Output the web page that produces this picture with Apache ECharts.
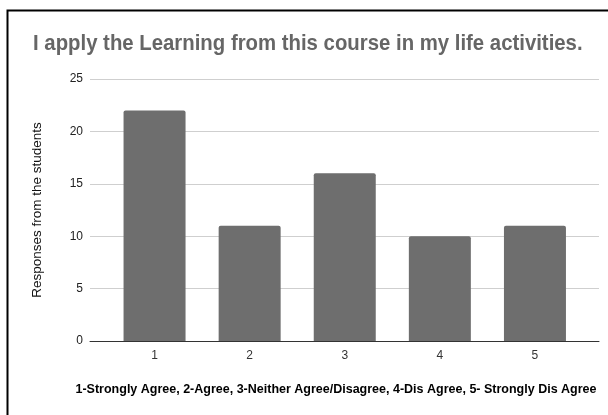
<!DOCTYPE html>
<html>
<head>
<meta charset="utf-8">
<script src="https://cdn.jsdelivr.net/npm/echarts@6/dist/echarts.min.js"></script>
<style>
html,body{margin:0;padding:0;background:#fff;}
#c{width:608px;height:415px;}
</style>
</head>
<body>
<div id="c"></div>
<script>
const titleText = 'I apply the Learning from this course in my life activities.';
const categories = ['1', '2', '3', '4', '5'];
const values = [22, 11, 16, 10, 11];
const yAxisName = 'Responses from the students';
const xAxisName = '1-Strongly Agree, 2-Agree, 3-Neither Agree/Disagree, 4-Dis Agree, 5- Strongly Dis Agree';
const yTicks = { min: 0, max: 25, interval: 5 };

const chart = echarts.init(document.getElementById('c'), null, { renderer: 'canvas' });
const font = 'Liberation Sans, Arial, sans-serif';
chart.setOption({
  animation: false,
  backgroundColor: '#fff',
  graphic: [
    { type: 'polyline', shape: { points: [[7.5, 415], [7.5, 10.5], [608, 10.5]] },
      style: { stroke: '#000', lineWidth: 2, fill: null }, silent: true },
    { type: 'text', x: 33, y: 33, scaleX: 0.925, style: { text: titleText, font: 'bold 22px ' + font, fill: '#666666' } },
    { type: 'text', x: 336, y: 390, style: { text: xAxisName, font: 'bold 12.5px ' + font, fill: '#000',
      align: 'center', verticalAlign: 'middle' } }
  ],
  grid: [
    { left: 90, right: 9, top: 79, bottom: 74 },
    { left: 107, right: 25.5, top: 79, bottom: 74 }
  ],
  xAxis: [
    { gridIndex: 0, type: 'value', min: 0, max: 1, axisLine: { show: true, onZero: false, lineStyle: { color: '#333', width: 1 } },
      axisTick: { show: false }, axisLabel: { show: false }, splitLine: { show: false } },
    { gridIndex: 1, type: 'category', data: categories, boundaryGap: true,
      axisLine: { show: false }, axisTick: { show: false },
      axisLabel: { color: '#333', fontSize: 12, fontFamily: font, margin: 9 } }
  ],
  yAxis: [
    { gridIndex: 0, type: 'value', min: yTicks.min, max: yTicks.max, interval: yTicks.interval,
      axisLine: { show: false }, axisTick: { show: false },
      axisLabel: { color: '#222', fontSize: 12, fontFamily: font, margin: 7 },
      splitLine: { lineStyle: { color: '#cfcfcf', width: 1 } },
      name: yAxisName, nameLocation: 'middle', nameGap: 46, nameRotate: 90,
      nameTextStyle: { color: '#111', fontSize: 13.5, fontFamily: font } },
    { gridIndex: 1, type: 'value', min: yTicks.min, max: yTicks.max, show: false }
  ],
  series: [
    { type: 'bar', xAxisIndex: 1, yAxisIndex: 1, data: values, barWidth: 62,
      itemStyle: { color: '#6e6e6e', borderRadius: [2, 2, 0, 0] } }
  ]
});
</script>
</body>
</html>
